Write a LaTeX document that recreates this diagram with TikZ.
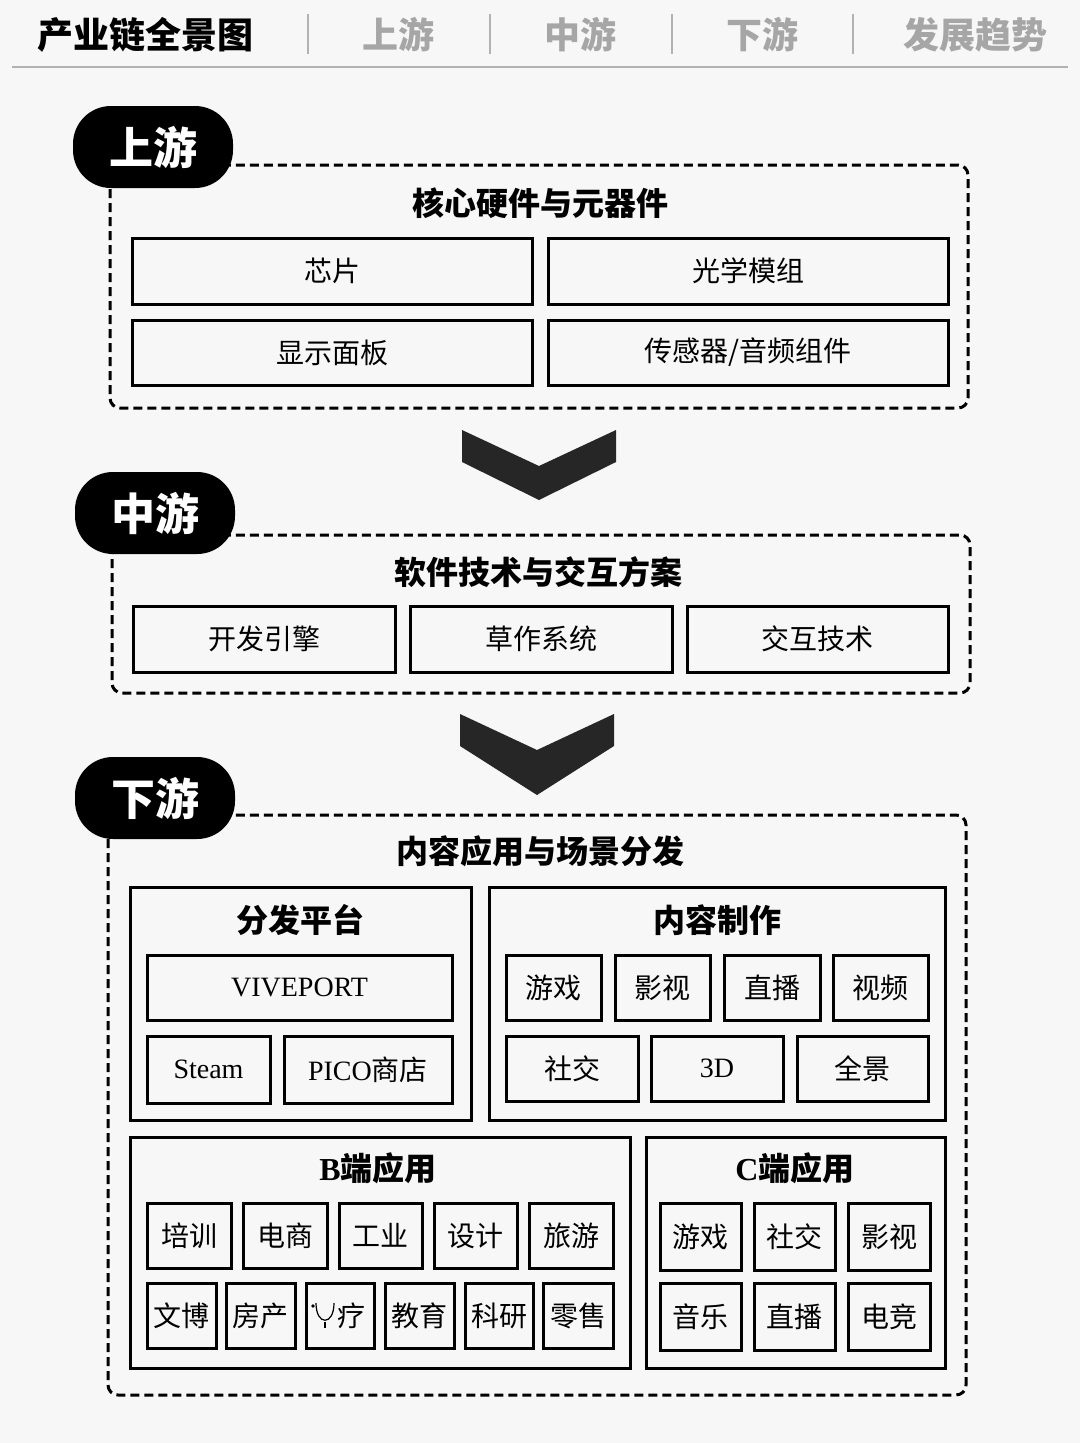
\documentclass[tikz,border=0pt]{standalone}
\usepackage{fontspec}
\setmainfont{Noto Sans CJK SC}
\newfontfamily\lat{Liberation Serif}
\begin{document}
\begin{tikzpicture}[x=1pt,y=-1pt,
  bx/.style={draw,line width=3pt,inner sep=0pt,outer sep=0pt,font=\fontsize{28}{30}\selectfont},
  grp/.style={draw,line width=3pt,inner sep=0pt,outer sep=0pt},
  dbox/.style={draw,line width=3pt,dash pattern=on 9pt off 5pt,rounded corners=10pt},
  pill/.style={fill=black,rounded corners=38pt,minimum width=160pt,minimum height=82pt,text=white,font=\fontsize{44}{46}\selectfont\bfseries},
  ttl/.style={font=\fontsize{32}{34}\selectfont\bfseries},
  hd/.style={font=\fontsize{36}{38}\selectfont\bfseries},
  chev/.style={fill=black!85}]
\newcommand\mybox[6]{\node[bx,minimum width={(#4-#2)*1pt},minimum height={(#5-#3)*1pt}] (#1) at ({(#2+#4)/2},{(#3+#5)/2}) {#6};}
\newcommand\mygrp[5]{\node[grp,minimum width={(#4-#2)*1pt},minimum height={(#5-#3)*1pt}] (#1) at ({(#2+#4)/2},{(#3+#5)/2}) {};}
\fill[blue!3!gray!6] (0,0) rectangle (1080,1443);
\useasboundingbox (0,0) rectangle (1080,1443);
% header
\node[hd] (h0) at (145,35) {产业链全景图};
\node[hd,text=black!35] (h1) at (398,35) {上游};
\node[hd,text=black!35] (h2) at (580,35) {中游};
\node[hd,text=black!35] (h3) at (762,35) {下游};
\node[hd,text=black!35] (h4) at (975,35) {发展趋势};
\foreach \x in {308,490,672,853} \draw[black!30,line width=1.2pt] (\x,14) -- (\x,54);
\draw[black!30,line width=2pt] (12,67) -- (1068,67);
% upstream
\draw[dbox] (110,165) rectangle (968,408);
\node[pill] (p1) at (153,147) {上游};
\node[ttl] (t1) at (540,203) {核心硬件与元器件};
\mybox{a1}{132}{238}{532}{304}{芯片}
\mybox{a2}{548}{238}{948}{304}{光学模组}
\mybox{a3}{132}{320}{532}{385}{显示面板}
\mybox{a4}{548}{320}{948}{385}{传感器/音频组件}
\fill[chev] (462,430) -- (539,466) -- (616,430) -- (616,462) -- (539,500) -- (462,462) -- cycle;
% midstream
\draw[dbox] (112,535) rectangle (970,693);
\node[pill] (p2) at (155,513) {中游};
\node[ttl] (t2) at (538,572) {软件技术与交互方案};
\mybox{b1}{133}{606}{395}{672}{开发引擎}
\mybox{b2}{410}{606}{672}{672}{草作系统}
\mybox{b3}{687}{606}{948}{672}{交互技术}
\fill[chev] (460,714) -- (537,750) -- (614,714) -- (614,746) -- (537,795) -- (460,746) -- cycle;
% downstream
\draw[dbox] (108,815) rectangle (966,1395);
\node[pill] (p3) at (155,798) {下游};
\node[ttl] (t3) at (540,851) {内容应用与场景分发};
\mygrp{g1}{130}{887}{471}{1120}
\node[ttl] (g1t) at (300,920) {分发平台};
\mybox{c1}{147}{955}{452}{1020}{\lat VIVEPORT}
\mybox{c2}{147}{1036}{270}{1103}{\lat Steam}
\mybox{c3}{284}{1036}{452}{1103}{{\lat PICO}商店}
\mygrp{g2}{489}{887}{945}{1120}
\node[ttl] (g2t) at (717,920) {内容制作};
\mybox{d1}{506}{955}{601}{1020}{游戏}
\mybox{d2}{615}{955}{710}{1020}{影视}
\mybox{d3}{724}{955}{820}{1020}{直播}
\mybox{d4}{833}{955}{928}{1020}{视频}
\mybox{d5}{506}{1036}{638}{1101}{社交}
\mybox{d6}{651}{1036}{783}{1101}{\lat 3D}
\mybox{d7}{797}{1036}{928}{1101}{全景}
\mygrp{g3}{130}{1137}{630}{1368}
\node[ttl] (g3t) at (378,1168) {{\lat B}端应用};
\mybox{e1}{147}{1203}{231}{1268}{培训}
\mybox{e2}{243}{1203}{327}{1268}{电商}
\mybox{e3}{339}{1203}{422}{1268}{工业}
\mybox{e4}{434}{1203}{517}{1268}{设计}
\mybox{e5}{529}{1203}{613}{1268}{旅游}
\mybox{f1}{147}{1283}{216}{1348}{文博}
\mybox{f2}{226}{1283}{295}{1348}{房产}
\mybox{f3}{306}{1283}{374}{1348}{\hspace*{22pt}疗}
\draw[line width=1.2pt] (316,1303) .. controls (316,1326) and (334,1326) .. (334,1303);
\draw[line width=1.2pt] (325,1322) -- (325,1328);
\fill (313,1306) circle (1.8pt);
\mybox{f4}{385}{1283}{454}{1348}{教育}
\mybox{f5}{465}{1283}{533}{1348}{科研}
\mybox{f6}{543}{1283}{613}{1348}{零售}
\mygrp{g4}{646}{1137}{945}{1368}
\node[ttl] (g4t) at (795,1168) {{\lat C}端应用};
\mybox{k1}{660}{1203}{741}{1270}{游戏}
\mybox{k2}{754}{1203}{835}{1270}{社交}
\mybox{k3}{848}{1203}{930}{1270}{影视}
\mybox{k4}{660}{1283}{741}{1350}{音乐}
\mybox{k5}{754}{1283}{835}{1350}{直播}
\mybox{k6}{848}{1283}{930}{1350}{电竞}
\end{tikzpicture}
\end{document}
